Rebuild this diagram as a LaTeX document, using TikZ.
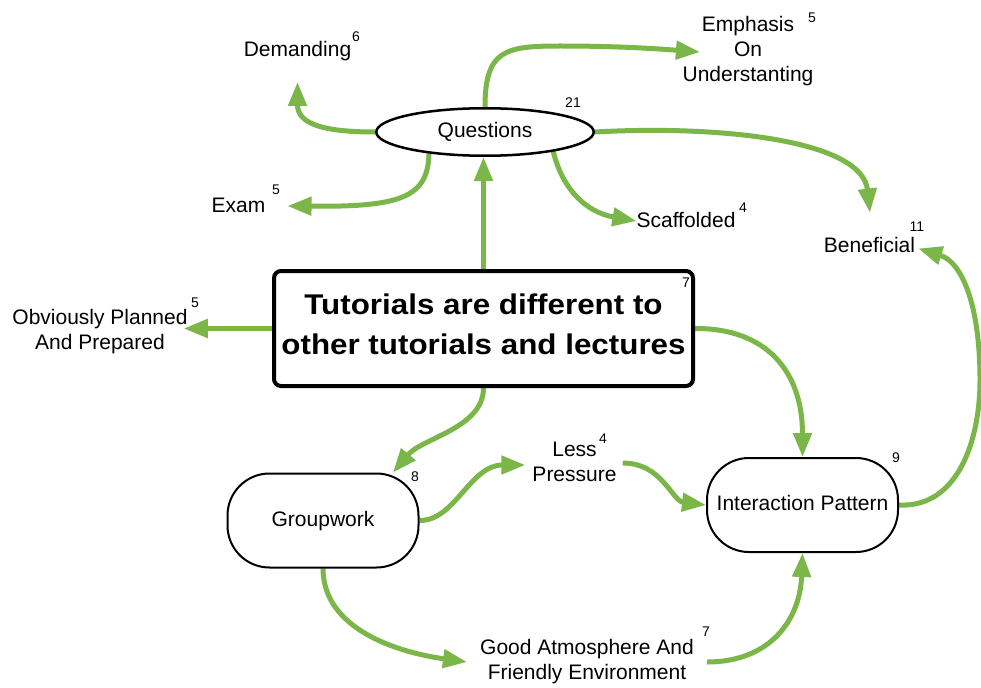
\documentclass[tikz,border=0pt]{standalone}
\usepackage{fontspec}
\setmainfont{Liberation Sans}
\newfontfamily\headfont[FakeStretch=1.1]{Liberation Sans Bold}
\usetikzlibrary{arrows.meta,shapes.geometric,calc}
\definecolor{leaf}{HTML}{7AB648}
\pgfdeclarelayer{bg}
\pgfdeclarelayer{edges}
\pgfsetlayers{bg,edges,main}
\begin{document}
\begin{tikzpicture}[x=1pt,y=-1pt,
  flow/.style={draw=leaf,line width=5pt,-{Triangle[length=24pt,width=18pt]}},
  term/.style={font=\fontsize{21}{25}\selectfont,align=center,inner sep=0pt},
  tally/.style={font=\fontsize{14}{16}\selectfont,inner sep=0pt},
  topic/.style={draw,line width=2pt,fill=white,rounded corners=42pt,
    minimum width=191pt,minimum height=94pt,inner sep=0pt,
    text height=15.5pt,text depth=4.5pt,font=\fontsize{21}{25}\selectfont},
]
\begin{pgfonlayer}{bg}
  \fill[white] (0,0) rectangle (981,687);
\end{pgfonlayer}
\useasboundingbox (0,0) rectangle (981,687);

% central statement
\node[draw,line width=4pt,rounded corners=7pt,fill=white,
      minimum width=419pt,minimum height=115pt,inner sep=0pt,align=center,
      font=\headfont\fontsize{28.5}{40}\selectfont] (main) at (483.5,328.5)
  {Tutorials are different to\\other tutorials and lectures\vrule width 0pt depth 8pt};

% hubs
\node[ellipse,draw,line width=2.5pt,fill=white,minimum width=217.5pt,
      minimum height=47.5pt,inner sep=0pt,font=\fontsize{21}{25}\selectfont]
  (q) at (485,132) {Questions};
\node[topic] (gw) at (323,520.5) {Groupwork};
\node[topic] (ip) at (802.5,505) {Interaction Pattern};

% plain labels
\node[term,anchor=base] (dem) at (297.5,57) {Demanding};
\node[term,anchor=base] (exam) at (238.5,212) {Exam};
\node[term,anchor=base] (scaf) at (686,227) {Scaffolded};
\node[term,anchor=base] (ben) at (869.5,252) {Beneficial};
\node[term] (emph) at (748,51.5) {Emphasis\\On\\Understanting};
\node[term] (obv) at (100,332) {Obviously Planned\\And Prepared};
\node[term] (less) at (574.5,462) {Less\\Pressure};
\node[term] (good) at (587,662) {Good Atmosphere And\\Friendly Environment};

% frequency counts
\node[tally] (n-dem) at (356,37) {6};
\node[tally] (n-q) at (573,103) {21};
\node[tally] (n-emph) at (812,18) {5};
\node[tally] (n-exam) at (276,190) {5};
\node[tally] (n-scaf) at (743,208) {4};
\node[tally] (n-ben) at (917,227) {11};
\node[tally] (n-main) at (686,283) {7};
\node[tally] (n-obv) at (195,303) {5};
\node[tally] (n-gw) at (415,477) {8};
\node[tally] (n-less) at (603,439) {4};
\node[tally] (n-ip) at (896,458) {9};
\node[tally] (n-good) at (706,632) {7};

% arrow ends near the plain labels
\coordinate (dem-in) at ($(dem.base)+(0,25)$);
\coordinate (exam-in) at ($(exam.base east)+(22,-6)$);
\coordinate (scaf-in) at ($(scaf.base west)+(0,-6)$);
\coordinate (emph-in) at ($(emph.west)+(17.5,0.5)$);
\coordinate (ben-top) at ($(ben.north)+(0.5,-24)$);
\coordinate (ben-in) at ($(ben.east)+(3,4)$);
\coordinate (obv-in) at ($(obv.east)+(-4,0)$);
\coordinate (gw-in) at ($(gw.north)+(70,0)$);
\coordinate (less-in) at ($(less.west)+(-7,3)$);
\coordinate (less-out) at ($(less.east)+(6,1)$);
\coordinate (good-in) at ($(good.west)+(-13,0)$);
\coordinate (good-out) at ($(good.east)+(13,0)$);

\begin{pgfonlayer}{edges}
  \draw[flow] (main.north) -- (main.north |- q.south);
  \draw[flow] (q.west) .. controls (318,132) and (297.5,122) .. (dem-in);
  \draw[flow] (q.201.5) .. controls (428,198) and (400,207) .. (exam-in);
  \draw[flow] (q.344.6) .. controls (562,188) and (585,212) .. (scaf-in);
  \draw[flow] (q.north) .. controls (485,50) and (505,46) .. (560,46)
              .. controls (620,46) and (660,49) .. (emph-in);
  \draw[flow] (q.east) .. controls (720,125) and (862,140) .. (ben-top);
  \draw[flow] (main.west) -- (main.west -| obv-in);
  \draw[flow] (main.south) .. controls (483.5,428) and (422,438) .. (gw-in);
  \draw[flow] (main.east) .. controls (765,328) and (802.5,370) .. (ip.north);
  \draw[flow] (gw.east) .. controls (455,521) and (470,465) .. (less-in);
  \draw[flow] (less-out) .. controls (662,463) and (672,501) .. (ip.west);
  \draw[flow] (gw.south) .. controls (323,628) and (395,652) .. (good-in);
  \draw[flow] (good-out) .. controls (770,662) and (800,620) .. (ip.south);
  \draw[flow] (ip.east) .. controls (958,508) and (980,440) .. (980,380)
              .. controls (980,305) and (962,262) .. (ben-in);
\end{pgfonlayer}
\end{tikzpicture}
\end{document}
